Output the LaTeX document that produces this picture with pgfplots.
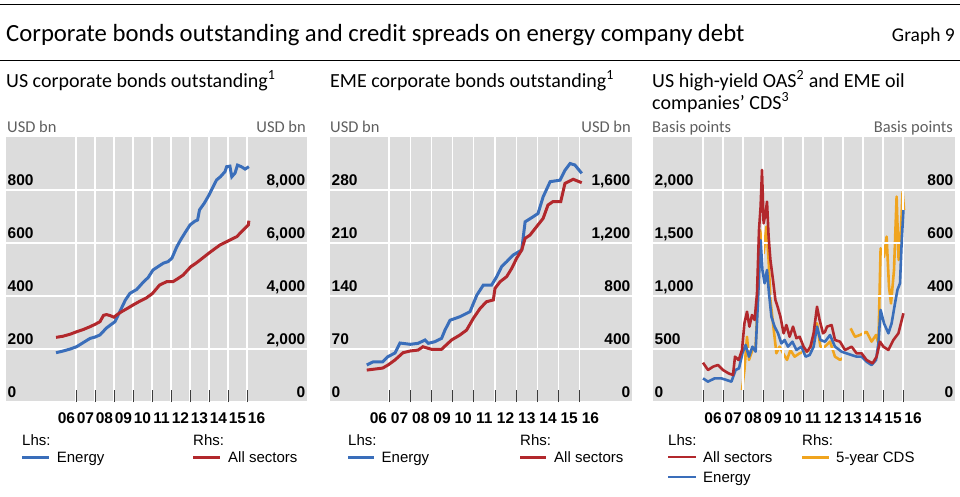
\documentclass[border=0pt]{standalone}
\usepackage{pgfplots}
\pgfplotsset{compat=1.18}
\usepackage{fontspec}
\setmainfont{Carlito}
\newfontfamily\arial{Liberation Sans}

\definecolor{bisblue}{RGB}{58,110,186}
\definecolor{bisred}{RGB}{178,40,44}
\definecolor{bisorange}{RGB}{240,164,30}
\definecolor{bggray}{RGB}{220,220,220}
\definecolor{tickgray}{RGB}{60,60,60}
\definecolor{unitgray}{RGB}{95,95,95}

\newcommand\tickfont{\arial\bfseries\fontsize{15.5}{16}\selectfont}
\newcommand\legfont{\arial\fontsize{15}{16}\selectfont}

\pgfplotsset{
  panel/.style={
    scale only axis, height=265pt, ymin=0, anchor=south west,
    axis line style={draw=none}, scaled y ticks=false,
    /pgf/number format/assume math mode=true,
    /pgf/number format/1000 sep={,},
    tick label style={font=\tickfont},
    ytick style={draw=none},
  },
  lhs/.style={
    panel,
    axis background/.style={fill=bggray},
    grid=major, grid style={white, line width=1.2pt},
    xtick pos=left, ytick pos=left,
    tick align=inside, major tick length=12pt,
    xtick style={draw=tickgray, line width=0.9pt},
    xticklabels={},
    extra x tick style={major tick length=0pt, grid=none},
    extra x tick labels={06,07,08,09,10,11,12,13,14,15,16},
    xticklabel style={anchor=north, inner sep=0pt, yshift=-10.5pt},
    yticklabel style={anchor=base west, inner sep=0pt, xshift=1.5pt, yshift=5pt},
  },
  rhs/.style={
    panel,
    xtick=\empty, yticklabel pos=right,
    yticklabel style={anchor=base east, inner sep=0pt, xshift=-1.5pt, yshift=5pt},
  },
}

\begin{document}
\begin{tikzpicture}
\useasboundingbox (0,0) rectangle (960pt,-496pt);

% header
\draw[line width=1pt] (0,-4pt) -- (960pt,-4pt);
\node[anchor=base west, inner sep=0pt, font=\fontsize{24.7}{26}\selectfont] at (6pt,-41.7pt)
  {Corporate bonds outstanding and credit spreads on energy company debt};
\node[anchor=base east, inner sep=0pt, font=\fontsize{19.5}{21}\selectfont] at (955pt,-41.7pt) {Graph 9};
\draw[line width=1pt] (0,-60pt) -- (960pt,-60pt);

% panel titles
\begin{scope}[every node/.style={anchor=base west, inner sep=0pt, font=\fontsize{20}{22}\selectfont}]
\node at (6pt,-87pt) {US corporate bonds outstanding\textsuperscript{1}};
\node at (330pt,-87pt) {EME corporate bonds outstanding\textsuperscript{1}};
\node at (652pt,-87pt) {US high-yield OAS\textsuperscript{2} and EME oil};
\node at (652pt,-109pt) {companies’ CDS\textsuperscript{3}};
\end{scope}
\begin{scope}[every node/.style={inner sep=0pt, text=unitgray, font=\fontsize{16.5}{18}\selectfont}]
\node[anchor=base west] at (7pt,-132.7pt) {USD bn};
\node[anchor=base east] at (306pt,-132.7pt) {USD bn};
\node[anchor=base west] at (330pt,-132.7pt) {USD bn};
\node[anchor=base east] at (631pt,-132.7pt) {USD bn};
\node[anchor=base west] at (652pt,-132.7pt) {Basis points};
\node[anchor=base east] at (953pt,-132.7pt) {Basis points};
\end{scope}

% ---------- panel 1 ----------
\begin{axis}[lhs, at={(6pt,-402pt)}, width=301pt,
  xmin=2003.316, xmax=2019.158, ymax=1000, ytick={0,200,400,600,800},
  xtick={2007,2008,2009,2010,2011,2012,2013,2014,2015,2016},
  extra x ticks={2006.5,2007.5,2008.5,2009.5,2010.5,2011.5,2012.5,2013.5,2014.5,2015.5,2016.5}]
\addplot[bisblue, line width=3pt] table {
2005.95 186
2006.3 192
2006.7 200
2007.04 209
2007.4 225
2007.74 240
2008.0 245
2008.26 253
2008.6 279
2008.8 290
2009.05 303
2009.4 355
2009.6 385
2009.84 410
2010.2 425
2010.5 449
2010.8 470
2011.05 498
2011.3 510
2011.6 524
2011.85 530
2012.05 543
2012.3 585
2012.5 611
2012.75 640
2013.0 668
2013.25 682
2013.4 687
2013.5 725
2013.75 750
2014.0 781
2014.2 810
2014.4 838
2014.6 850
2014.84 869
2014.93 888
2015.1 890
2015.2 850
2015.37 864
2015.5 894
2015.7 888
2015.9 879
2016.1 888
};
\end{axis}
\begin{axis}[rhs, at={(6pt,-402pt)}, width=301pt,
  xmin=2003.316, xmax=2019.158, ymax=10000, ytick={0,2000,4000,6000,8000}]
\addplot[bisred, line width=3pt] table {
2005.95 2440
2006.3 2480
2006.7 2560
2007.04 2653
2007.4 2740
2007.74 2842
2008.0 2930
2008.26 3030
2008.45 3270
2008.6 3300
2008.8 3260
2009.0 3200
2009.14 3283
2009.4 3408
2009.7 3530
2010.0 3660
2010.35 3800
2010.7 3925
2011.03 4100
2011.4 4415
2011.77 4540
2012.1 4540
2012.35 4650
2012.64 4792
2013.04 5106
2013.3 5230
2013.53 5358
2013.75 5480
2014.0 5622
2014.3 5780
2014.58 5925
2014.85 6020
2015.1 6113
2015.46 6238
2015.8 6490
2016.07 6680
2016.1 6842
};
\end{axis}

% ---------- panel 2 ----------
\begin{axis}[lhs, at={(330pt,-402pt)}, width=302pt,
  xmin=2004.217, xmax=2018.462, ymax=350, ytick={0,70,140,210,280},
  xtick={2007,2008,2009,2010,2011,2012,2013,2014,2015,2016},
  extra x ticks={2006.5,2007.5,2008.5,2009.5,2010.5,2011.5,2012.5,2013.5,2014.5,2015.5,2016.5}]
\addplot[bisblue, line width=3pt] table {
2005.95 48.9
2006.25 53
2006.7 53
2006.95 59.9
2007.28 64.7
2007.52 77.9
2008.0 76.2
2008.37 77.5
2008.7 81.9
2008.85 77.5
2009.17 79.7
2009.48 84.1
2009.64 95
2009.88 108
2010.35 112.7
2010.82 119.3
2011.14 141
2011.45 154.5
2011.84 154.5
2012.08 165.5
2012.31 178.7
2012.55 185.3
2012.85 194
2013.26 200.8
2013.42 238
2013.8 244.7
2014.03 249
2014.27 271
2014.6 291
2015.07 293
2015.3 306
2015.54 315
2015.77 313
2016.09 302
};
\end{axis}
\begin{axis}[rhs, at={(330pt,-402pt)}, width=302pt,
  xmin=2004.217, xmax=2018.462, ymax=2000, ytick={0,400,800,1200,1600}]
\addplot[bisred, line width=3pt] table {
2005.95 241
2006.7 256
2006.95 279
2007.28 317
2007.66 372
2008.0 385
2008.37 392
2008.6 417
2009.0 398
2009.48 398
2009.95 468
2010.35 506
2010.66 543
2010.98 632
2011.3 707
2011.6 757
2011.92 770
2012.0 858
2012.24 908
2012.55 946
2012.79 1009
2013.02 1085
2013.26 1147
2013.42 1235
2013.65 1260
2013.96 1323
2014.27 1386
2014.5 1487
2014.73 1512
2015.1 1512
2015.3 1650
2015.69 1681
2016.09 1655
};
\end{axis}

% ---------- panel 3 ----------
\begin{axis}[rhs, at={(653pt,-402pt)}, width=302pt,
  axis background/.style={fill=bggray},
  xmin=2003.5, xmax=2018.6, ymax=1000, ytick={0,200,400,600,800},
  unbounded coords=jump]
\addplot[bisorange, line width=2.6pt, line join=round] table {
2007.95 45
2008.07 121
2008.2 246
2008.3 159
2008.47 196
2008.63 209
2008.75 410
2008.85 649
2008.93 611
2009.03 561
2009.17 662
2009.28 536
2009.37 385
2009.5 297
2009.67 184
2009.83 209
2010.0 184
2010.2 159
2010.37 196
2010.58 171
2010.83 184
2011.08 190
2011.33 196
2011.55 246
2011.7 297
2011.87 209
2012.1 209
2012.35 228
2012.6 171
2012.85 159
2012.98 165
2013.2 nan
2013.38 278
2013.6 246
2013.85 253
2014.18 265
2014.43 228
2014.65 253
2014.77 222
2014.88 580
2015.05 548
2015.18 624
2015.3 435
2015.4 372
2015.55 498
2015.68 775
2015.78 536
2015.88 624
2015.98 794
2016.05 725
};
\end{axis}
\begin{axis}[lhs, at={(653pt,-402pt)}, width=302pt,
  axis background/.style={},
  xmin=2003.5, xmax=2018.6, ymax=2500, ytick={0,500,1000,1500,2000},
  xtick={2006,2007,2008,2009,2010,2011,2012,2013,2014,2015,2016},
  extra x ticks={2006.5,2007.5,2008.5,2009.5,2010.5,2011.5,2012.5,2013.5,2014.5,2015.5,2016.5}]
\addplot[bisblue, line width=2.6pt, line join=round] table {
2006.0 223
2006.25 192
2006.58 223
2006.92 223
2007.17 208
2007.42 192
2007.63 302
2007.8 318
2007.97 459
2008.13 538
2008.3 428
2008.47 522
2008.63 475
2008.75 962
2008.88 1528
2008.97 1245
2009.08 1120
2009.2 1245
2009.3 1025
2009.42 805
2009.58 711
2009.75 648
2009.92 553
2010.08 585
2010.25 522
2010.47 569
2010.67 491
2010.92 522
2011.13 428
2011.33 443
2011.53 522
2011.7 711
2011.87 585
2012.1 569
2012.35 632
2012.6 522
2012.93 475
2013.18 459
2013.43 443
2013.68 428
2013.93 428
2014.18 380
2014.43 349
2014.65 396
2014.77 553
2014.88 868
2015.05 742
2015.27 648
2015.43 742
2015.6 931
2015.72 1057
2015.85 1120
2015.93 1497
2016.02 1811
};
\addplot[bisred, line width=2.6pt, line join=round] table {
2006.0 371
2006.25 302
2006.5 333
2006.75 349
2007.0 302
2007.28 270
2007.5 255
2007.6 428
2007.78 396
2007.95 491
2008.07 742
2008.2 852
2008.32 711
2008.45 821
2008.58 774
2008.7 1025
2008.8 1623
2008.88 1843
2008.95 2189
2009.03 1686
2009.13 1780
2009.2 1890
2009.28 1560
2009.37 1340
2009.5 1151
2009.62 962
2009.73 899
2009.87 805
2010.03 648
2010.17 726
2010.33 616
2010.5 711
2010.67 601
2010.83 616
2011.03 522
2011.2 475
2011.37 522
2011.53 648
2011.7 899
2011.83 774
2012.0 648
2012.1 663
2012.2 711
2012.43 726
2012.6 585
2012.85 569
2013.1 491
2013.43 522
2013.68 459
2013.93 459
2014.18 396
2014.48 365
2014.68 428
2014.85 569
2015.02 522
2015.27 491
2015.52 585
2015.77 648
2016.02 837
};
\end{axis}

% ---------- legends ----------
\begin{scope}[every node/.style={anchor=base west, inner sep=0pt, font=\legfont}]
\node at (22pt,-445pt) {Lhs:};
\draw[bisblue, line width=3pt] (22pt,-457.3pt) -- (49pt,-457.3pt);
\node at (56.7pt,-462.3pt) {Energy};
\node at (193pt,-445pt) {Rhs:};
\draw[bisred, line width=3pt] (193pt,-457.3pt) -- (220pt,-457.3pt);
\node at (228pt,-462.3pt) {All sectors};

\node at (348pt,-445pt) {Lhs:};
\draw[bisblue, line width=3pt] (348pt,-457.3pt) -- (374pt,-457.3pt);
\node at (381.5pt,-462.3pt) {Energy};
\node at (520pt,-445pt) {Rhs:};
\draw[bisred, line width=3pt] (520pt,-457.3pt) -- (546pt,-457.3pt);
\node at (554pt,-462.3pt) {All sectors};

\node at (668pt,-445pt) {Lhs:};
\draw[bisred, line width=2pt] (668pt,-457.3pt) -- (696pt,-457.3pt);
\node at (703pt,-462.3pt) {All sectors};
\draw[bisblue, line width=2pt] (668pt,-477.3pt) -- (696pt,-477.3pt);
\node at (703pt,-482.3pt) {Energy};
\node at (802pt,-445pt) {Rhs:};
\draw[bisorange, line width=3pt] (802pt,-457.3pt) -- (829pt,-457.3pt);
\node at (836pt,-462.3pt) {5-year CDS};
\end{scope}
\end{tikzpicture}
\end{document}
